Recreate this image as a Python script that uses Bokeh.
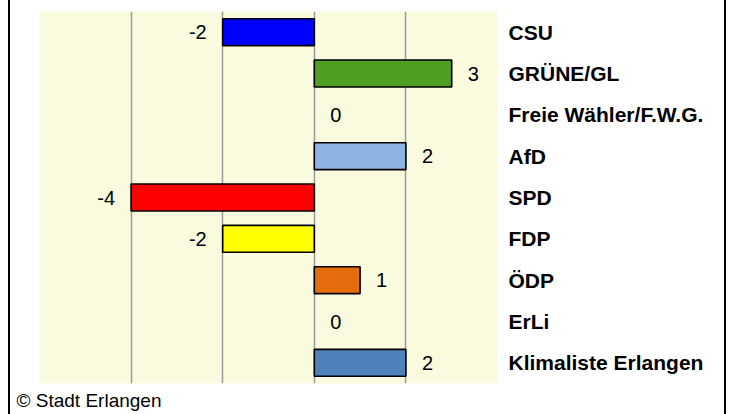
from bokeh.plotting import figure
from bokeh.models import ColumnDataSource, FactorRange, FixedTicker, Title, Range1d
from bokeh.embed import file_html
from bokeh.resources import INLINE

parties = ["CSU", "GRÜNE/GL", "Freie Wähler/F.W.G.", "AfD", "SPD", "FDP", "ÖDP", "ErLi", "Klimaliste Erlangen"]
changes = [-2, 3, 0, 2, -4, -2, 1, 0, 2]
colors = ["#0000FF", "#509E22", "#FFFFFF", "#8EB4E3", "#FF0000", "#FFFF00", "#E46C0A", "#FFFFFF", "#4F81BD"]
grid_ticks = [-6, -4, -2, 0, 2, 4]

src = ColumnDataSource(dict(
    party=parties,
    change=changes,
    color=colors,
    label=[str(v) for v in changes],
    align=["right" if v < 0 else "left" for v in changes],
    off=[-16 if v < 0 else 16 for v in changes],
    lw=[1.6 if v != 0 else 0 for v in changes],
))

p = figure(
    width=718, height=414,
    y_range=FactorRange(*reversed(parties)),
    x_range=Range1d(-6, 4),
    y_axis_location="right", x_axis_location=None,
    output_backend="svg", toolbar_location=None,
    min_border_left=29, min_border_top=11, min_border_bottom=31, min_border_right=231,
)
p.styles = {"border-left": "2px solid black", "border-right": "2px solid black", "margin-left": "8px"}

p.background_fill_color = "#FAFADE"
p.border_fill_color = "white"
p.outline_line_color = None

p.ygrid.grid_line_color = None
p.xgrid.ticker = FixedTicker(ticks=grid_ticks)
p.xgrid.grid_line_color = "#9A9A9A"
p.xgrid.grid_line_width = 1.5

bars = p.hbar(y="party", left=0, right="change", height=0.65, source=src,
              fill_color="color", line_color="black", line_width="lw")

p.text(x="change", y="party", text="label", source=src, x_offset="off",
       text_align="align", text_baseline="middle", text_font_size="20px",
       text_color="black", text_font={"value": "Liberation Sans"})

ax = p.yaxis[0]
ax.axis_line_color = None
ax.major_tick_line_color = None
ax.minor_tick_line_color = None
ax.major_tick_out = 0
ax.major_tick_in = 0
ax.major_label_standoff = 11
ax.major_label_text_font = "Liberation Sans"
ax.major_label_text_font_style = "bold"
ax.major_label_text_font_size = "21px"
ax.major_label_text_color = "black"

t = Title(text="© Stadt Erlangen", align="left", text_font="Liberation Sans",
          text_font_style="normal", text_font_size="19px", text_color="black",
          offset=-23, standoff=8)
p.add_layout(t, "below")

open("out.html", "w").write(file_html(p, INLINE))
